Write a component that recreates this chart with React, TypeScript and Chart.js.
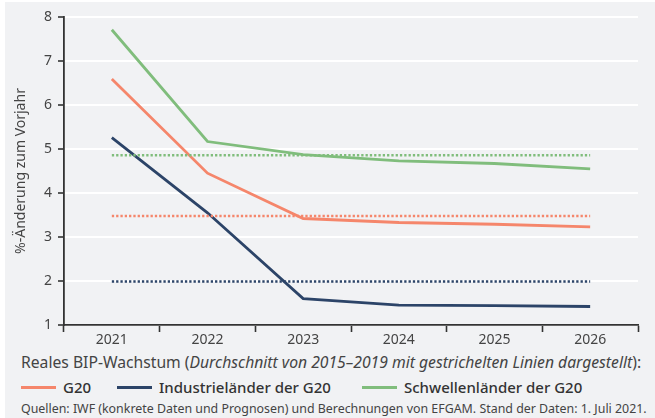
import React, { useEffect, useRef } from "react";
import { Chart, registerables } from "chart.js";

Chart.register(...registerables);

const years = ["2021", "2022", "2023", "2024", "2025", "2026"];
const g20 = [6.59, 4.45, 3.42, 3.33, 3.29, 3.23];
const industrial = [5.26, 3.55, 1.6, 1.45, 1.44, 1.42];
const emerging = [7.71, 5.17, 4.87, 4.73, 4.67, 4.55];
const g20Avg = 3.48;
const industrialAvg = 1.99;
const emergingAvg = 4.86;
const yTicks = [1, 2, 3, 4, 5, 6, 7, 8];

const ORANGE = "#f5866b";
const NAVY = "#2c4468";
const GREEN = "#80bd7c";
const FONT = "'Noto Sans', sans-serif";

export default function App() {
  const ref = useRef<HTMLCanvasElement | null>(null);

  useEffect(() => {
    if (!ref.current) return;
    const flat = (v: number) => years.map(() => v);
    const dotted = (data: number[], color: string) => ({
      data,
      borderColor: color,
      backgroundColor: color,
      borderWidth: 2.5,
      borderDash: [2.3, 2],
      pointRadius: 0,
      tension: 0,
    });
    const solid = (data: number[], color: string) => ({
      data,
      borderColor: color,
      backgroundColor: color,
      borderWidth: 2.8,
      pointRadius: 0,
      tension: 0,
    });
    const chart = new Chart(ref.current, {
      type: "line",
      data: {
        labels: years,
        datasets: [
          dotted(flat(g20Avg), ORANGE),
          dotted(flat(industrialAvg), NAVY),
          dotted(flat(emergingAvg), GREEN),
          solid(g20, ORANGE),
          solid(industrial, NAVY),
          solid(emerging, GREEN),
        ],
      },
      options: {
        animation: false,
        responsive: false,
        maintainAspectRatio: false,
        layout: { padding: { top: 17, right: 17, left: 0, bottom: 0 } },
        plugins: { legend: { display: false }, tooltip: { enabled: false } },
        scales: {
          x: {
            offset: true,
            grid: {
              offset: true,
              drawOnChartArea: false,
              tickLength: 7,
              tickColor: "#333",
              tickWidth: 1.6,
            },
            border: { color: "#333", width: 1.8 },
            ticks: {
              color: "#444",
              font: { family: FONT, size: 14 },
              padding: 0,
            },
            afterFit: (s: any) => {
              s.height = 20;
            },
          },
          y: {
            min: 1,
            max: 8,
            afterBuildTicks: (s: any) => {
              s.ticks = yTicks.map((v) => ({ value: v }));
            },
            grid: {
              color: "#ffffff",
              lineWidth: 2,
              tickLength: 6,
              tickColor: "#333",
              tickWidth: 1.6,
            },
            border: { color: "#333", width: 1.8 },
            ticks: {
              color: "#444",
              font: { family: FONT, size: 14 },
              padding: 6,
            },
            title: {
              display: true,
              text: "%-Änderung zum Vorjahr",
              color: "#444",
              font: { family: FONT, size: 14 },
              padding: { top: 13, bottom: 0 },
            },
            afterFit: (s: any) => {
              s.width = 64;
            },
          },
        },
      },
    });
    return () => chart.destroy();
  }, []);

  const legendItem = (color: string, label: string, left: number) => (
    <div
      style={{
        position: "absolute",
        left,
        top: 376,
        display: "flex",
        alignItems: "center",
        height: 22,
      }}
    >
      <div style={{ width: 35, height: 3, background: color, marginRight: 7 }} />
      <span style={{ fontSize: 15, fontWeight: 500, color: "#333", whiteSpace: "nowrap" }}>
        {label}
      </span>
    </div>
  );

  return (
    <div
      style={{
        position: "fixed",
        left: 0,
        top: 0,
        width: 655,
        height: 418,
        background: "#ffffff",
        fontFamily: FONT,
        overflow: "hidden",
      }}
    >
      <div
        style={{
          position: "absolute",
          left: 5,
          top: 2,
          width: 650,
          height: 416,
          background: "#f1f2f4",
        }}
      />
      <canvas
        ref={ref}
        width={655}
        height={345}
        style={{ position: "absolute", left: 0, top: 0, width: 655, height: 345 }}
      />
      <div
        style={{
          position: "absolute",
          left: 21,
          top: 351,
          fontSize: 15.7,
          color: "#444",
          whiteSpace: "nowrap",
          lineHeight: "22px",
        }}
      >
        Reales BIP-Wachstum (
        <i>Durchschnitt von 2015–2019 mit gestrichelten Linien dargestellt</i>):
      </div>
      {legendItem(ORANGE, "G20", 21)}
      {legendItem(NAVY, "Industrieländer der G20", 117)}
      {legendItem(GREEN, "Schwellenländer der G20", 362)}
      <div
        style={{
          position: "absolute",
          left: 21,
          top: 400,
          fontSize: 12.4,
          color: "#444",
          whiteSpace: "nowrap",
          lineHeight: "18px",
        }}
      >
        Quellen: IWF (konkrete Daten und Prognosen) und Berechnungen von EFGAM. Stand der Daten: 1. Juli 2021.
      </div>
    </div>
  );
}
